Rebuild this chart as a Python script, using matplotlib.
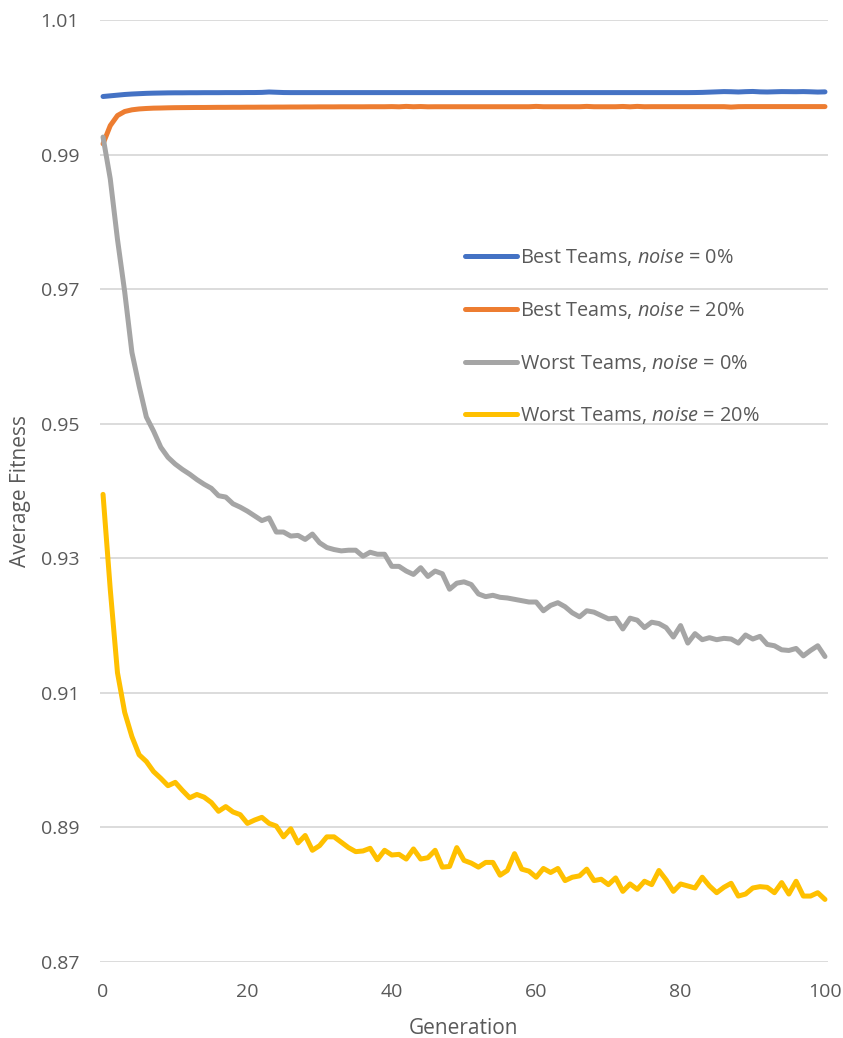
import matplotlib
matplotlib.use("Agg")
import matplotlib.pyplot as plt
import numpy as np

generations = list(range(0, 101))

best_noise0 = [
    0.99863, 0.99873, 0.99883, 0.99893, 0.99900, 0.99905, 0.99910, 0.99913, 0.99915, 0.99917,
    0.99918, 0.99918, 0.99919, 0.99919, 0.99920, 0.99920, 0.99920, 0.99921, 0.99921, 0.99921,
    0.99922, 0.99922, 0.99924, 0.99930, 0.99926, 0.99922, 0.99921, 0.99921, 0.99921, 0.99921,
    0.99921, 0.99921, 0.99921, 0.99921, 0.99921, 0.99921, 0.99921, 0.99921, 0.99921, 0.99921,
    0.99921, 0.99921, 0.99921, 0.99921, 0.99921, 0.99921, 0.99921, 0.99921, 0.99921, 0.99921,
    0.99921, 0.99921, 0.99921, 0.99921, 0.99921, 0.99921, 0.99921, 0.99921, 0.99921, 0.99921,
    0.99921, 0.99921, 0.99921, 0.99921, 0.99921, 0.99921, 0.99921, 0.99921, 0.99921, 0.99921,
    0.99921, 0.99921, 0.99921, 0.99921, 0.99921, 0.99921, 0.99921, 0.99921, 0.99921, 0.99921,
    0.99921, 0.99921, 0.99922, 0.99924, 0.99928, 0.99932, 0.99936, 0.99934, 0.99930, 0.99935,
    0.99938, 0.99932, 0.99930, 0.99933, 0.99936, 0.99935, 0.99934, 0.99936, 0.99933, 0.99929,
    0.99932,
]

best_noise20 = [
    0.99160, 0.99430, 0.99580, 0.99640, 0.99665, 0.99678, 0.99685, 0.99690, 0.99692, 0.99695,
    0.99697, 0.99698, 0.99699, 0.99700, 0.99700, 0.99701, 0.99702, 0.99702, 0.99703, 0.99703,
    0.99704, 0.99704, 0.99705, 0.99705, 0.99706, 0.99706, 0.99707, 0.99707, 0.99708, 0.99708,
    0.99709, 0.99709, 0.99709, 0.99710, 0.99710, 0.99710, 0.99710, 0.99711, 0.99711, 0.99711,
    0.99713, 0.99710, 0.99716, 0.99711, 0.99714, 0.99710, 0.99711, 0.99711, 0.99711, 0.99711,
    0.99711, 0.99711, 0.99711, 0.99711, 0.99711, 0.99711, 0.99711, 0.99711, 0.99711, 0.99711,
    0.99716, 0.99711, 0.99711, 0.99711, 0.99711, 0.99711, 0.99711, 0.99716, 0.99711, 0.99711,
    0.99711, 0.99711, 0.99715, 0.99710, 0.99716, 0.99711, 0.99712, 0.99712, 0.99712, 0.99712,
    0.99712, 0.99712, 0.99712, 0.99712, 0.99712, 0.99712, 0.99712, 0.99706, 0.99712, 0.99713,
    0.99713, 0.99713, 0.99713, 0.99713, 0.99713, 0.99713, 0.99713, 0.99713, 0.99713, 0.99713,
    0.99713,
]

worst_noise0 = [
    0.9926, 0.9864, 0.9774, 0.9696, 0.9606, 0.9556, 0.9510, 0.9489, 0.9465, 0.9450,
    0.9440, 0.9432, 0.9425, 0.9417, 0.9410, 0.9404, 0.9393, 0.9391, 0.9381, 0.9376,
    0.9370, 0.9363, 0.9356, 0.9360, 0.9339, 0.9339, 0.9333, 0.9334, 0.9328, 0.9336,
    0.9323, 0.9316, 0.9313, 0.9311, 0.9312, 0.9312, 0.9303, 0.9309, 0.9306, 0.9306,
    0.9288, 0.9288, 0.9281, 0.9276, 0.9286, 0.9273, 0.9281, 0.9277, 0.9254, 0.9263,
    0.9265, 0.9261, 0.9247, 0.9243, 0.9245, 0.9242, 0.9241, 0.9239, 0.9237, 0.9235,
    0.9235, 0.9222, 0.9230, 0.9234, 0.9228, 0.9219, 0.9213, 0.9222, 0.9220, 0.9215,
    0.9210, 0.9211, 0.9195, 0.9211, 0.9208, 0.9197, 0.9205, 0.9203, 0.9197, 0.9183,
    0.9200, 0.9174, 0.9188, 0.9179, 0.9182, 0.9179, 0.9181, 0.9180, 0.9174, 0.9186,
    0.9180, 0.9184, 0.9172, 0.9170, 0.9164, 0.9163, 0.9166, 0.9155, 0.9163, 0.9170,
    0.9154,
]

worst_noise20 = [
    0.9395, 0.9254, 0.9130, 0.9071, 0.9035, 0.9008, 0.8998, 0.8983, 0.8973, 0.8962,
    0.8967, 0.8955, 0.8944, 0.8949, 0.8945, 0.8937, 0.8924, 0.8931, 0.8923, 0.8919,
    0.8906, 0.8911, 0.8915, 0.8906, 0.8902, 0.8886, 0.8898, 0.8877, 0.8888, 0.8866,
    0.8873, 0.8886, 0.8886, 0.8878, 0.8870, 0.8864, 0.8865, 0.8869, 0.8852, 0.8866,
    0.8859, 0.8860, 0.8853, 0.8868, 0.8853, 0.8855, 0.8866, 0.8841, 0.8842, 0.8870,
    0.8851, 0.8847, 0.8841, 0.8848, 0.8848, 0.8829, 0.8836, 0.8861, 0.8838, 0.8835,
    0.8826, 0.8839, 0.8833, 0.8839, 0.8821, 0.8826, 0.8828, 0.8838, 0.8821, 0.8823,
    0.8815, 0.8825, 0.8805, 0.8816, 0.8808, 0.8820, 0.8815, 0.8836, 0.8822, 0.8805,
    0.8816, 0.8813, 0.8810, 0.8826, 0.8813, 0.8803, 0.8811, 0.8817, 0.8798, 0.8801,
    0.8810, 0.8812, 0.8811, 0.8803, 0.8818, 0.8801, 0.8820, 0.8798, 0.8798, 0.8803,
    0.8793,
]

series_labels = [
    r"Best Teams, $\mathit{noise}$ = 0%",
    r"Best Teams, $\mathit{noise}$ = 20%",
    r"Worst Teams, $\mathit{noise}$ = 0%",
    r"Worst Teams, $\mathit{noise}$ = 20%",
]
series_colors = ["#4472C4", "#ED7D31", "#A5A5A5", "#FFC000"]
y_ticks = [0.87, 0.89, 0.91, 0.93, 0.95, 0.97, 0.99, 1.01]
x_ticks = [0, 20, 40, 60, 80, 100]

plt.rcParams["font.family"] = ["Open Sans", "DejaVu Sans"]
plt.rcParams["mathtext.fontset"] = "custom"
plt.rcParams["mathtext.rm"] = "Open Sans"
plt.rcParams["mathtext.it"] = "Open Sans:italic"

text_color = "#595959"
W, H = 843, 1038
fig = plt.figure(figsize=(W / 100, H / 100), dpi=100)
ax = fig.add_axes([100 / W, (H - 962) / H, 728 / W, 942 / H])

all_series = [best_noise0, best_noise20, worst_noise0, worst_noise20]
for vals, lab, col in zip(all_series, series_labels, series_colors):
    ax.plot(generations, vals, color=col, lw=3.6, label=lab,
            solid_capstyle="round", solid_joinstyle="round", zorder=3)

ax.set_xlim(-0.42, 100.42)
ax.set_ylim(0.87, 1.01)
ax.set_yticks(y_ticks)
ax.set_yticklabels([f"{v:.2f}" for v in y_ticks])
ax.set_xticks(x_ticks)
ax.grid(axis="y", color="#D9D9D9", lw=1.3, zorder=0)
ax.grid(axis="x", visible=False)
for s in ax.spines.values():
    s.set_visible(False)
ax.tick_params(axis="both", length=0, labelsize=14, colors=text_color)
ax.tick_params(axis="y", pad=15)
ax.tick_params(axis="x", pad=15)

ax.set_xlabel("Generation", fontsize=15, color=text_color, labelpad=12)
ax.set_ylabel("Average Fitness", fontsize=15, color=text_color, labelpad=7)

leg = ax.legend(loc="upper left", bbox_to_anchor=(465 / W, 1 - 247 / H),
                bbox_transform=fig.transFigure, frameon=False,
                fontsize=14.3, handlelength=2.6, handletextpad=0.15,
                labelspacing=1.6, borderpad=0, borderaxespad=0)
for t in leg.get_texts():
    t.set_color(text_color)

fig.savefig("out.png", dpi=100, facecolor="white")
